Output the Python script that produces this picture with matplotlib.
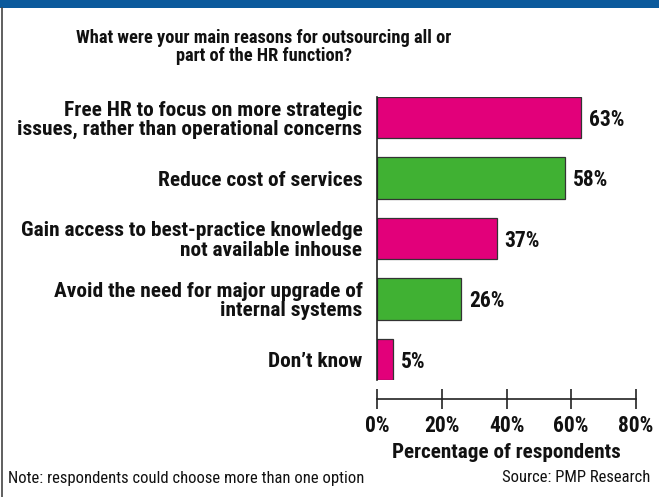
import matplotlib.pyplot as plt
import matplotlib.font_manager as fm
from matplotlib.patches import Rectangle
from matplotlib.lines import Line2D

# condensed grotesque, first one found with a bold face
bold_faces = {f.name for f in fm.fontManager.ttflist if f.weight in (700, 'bold')}
for fam in ['Liberation Sans Narrow', 'Roboto Condensed', 'Archivo Narrow',
            'PT Sans Narrow', 'Arimo', 'IBM Plex Sans Condensed',
            'Fira Sans Condensed', 'Barlow Condensed', 'Asap Condensed']:
    if fam in bold_faces:
        break
else:
    fam = 'DejaVu Sans'
plt.rcParams['font.family'] = [fam, 'DejaVu Sans']

reasons = [
    'Free HR to focus on more strategic\nissues, rather than operational concerns',
    'Reduce cost of services',
    'Gain access to best-practice knowledge\nnot available inhouse',
    'Avoid the need for major upgrade of\ninternal systems',
    'Don\u2019t know',
]
shares = [63, 58, 37, 26, 5]
bar_colors = ['#e2007a', '#40b133', '#e2007a', '#40b133', '#e2007a']
x_ticks = [0, 20, 40, 60, 80]

W, H = 659, 497
ink = '#111111'
fig = plt.figure(figsize=(W / 100, H / 100), dpi=100)

# blue strip along the top and a thin frame line on the left
fig.add_artist(Rectangle((0, 1 - 8 / H), 1, 8 / H, transform=fig.transFigure,
                         facecolor='#0b5a9c', edgecolor='none'))
fig.add_artist(Line2D([1.5 / W, 1.5 / W], [0, 1 - 8 / H], transform=fig.transFigure,
                      color='#444444', lw=1.2))

ax = fig.add_axes([377 / W, 1 - 380 / H, (636 - 377) / W, 283 / H])

# spines first: moving a spine resets the tick labels
for s in ['top', 'right']:
    ax.spines[s].set_visible(False)
ax.spines['left'].set_linewidth(1.2)
ax.spines['left'].set_color('#222222')
ax.spines['bottom'].set_position(('outward', 13.7))
ax.spines['bottom'].set_linewidth(1.2)
ax.spines['bottom'].set_color('#222222')

pos = range(len(reasons))
bh = 0.678
ax.barh(pos, shares, height=bh, color=bar_colors, edgecolor='#333333', linewidth=0.9)
ax.set_ylim(len(reasons) - 1 + bh / 2, -bh / 2)
ax.set_xlim(0, 80)

for y, v in zip(pos, shares):
    ax.text(v + 2.4, y + 0.04, f'{v}%', va='center', ha='left',
            fontsize=15.5, fontweight='bold', color=ink)

ax.tick_params(axis='y', length=0, pad=10.5)
ax.tick_params(axis='x', direction='inout', length=15, width=1.2, color='#222222',
               pad=4)
ax.set_yticks(list(pos))
ax.set_yticklabels(reasons, fontsize=15.4, fontweight='bold', color=ink,
                   linespacing=1.0)
ax.set_xticks(x_ticks)
ax.set_xticklabels([f'{t}%' for t in x_ticks], fontsize=15.5, fontweight='bold',
                   color=ink)
ax.set_xlabel('Percentage of respondents', fontsize=15.2, fontweight='bold',
              color=ink, labelpad=4)

fig.text(264 / W, 1 - 47 / H,
         'What were your main reasons for outsourcing all or\npart of the HR function?',
         ha='center', va='center', fontsize=13.2, fontweight=900,
         color=ink, linespacing=1.05)

fig.text(8 / W, 1 - 478 / H, 'Note: respondents could choose more than one option',
         ha='left', va='center', fontsize=12, color=ink)
fig.text(650 / W, 1 - 478 / H, 'Source: PMP Research',
         ha='right', va='center', fontsize=12, color=ink)

fig.savefig('out.png', dpi=100)
